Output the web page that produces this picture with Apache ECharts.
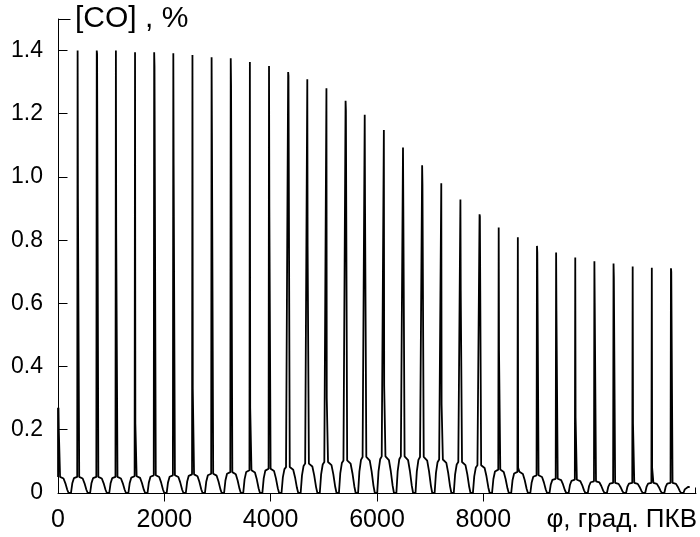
<!DOCTYPE html>
<html>
<head>
<meta charset="utf-8">
<script src="https://cdn.jsdelivr.net/npm/echarts@6/dist/echarts.min.js"></script>
<style>
  html, body { margin: 0; padding: 0; background: #fff; }
  #chart { width: 700px; height: 537px; }
</style>
</head>
<body>
<div id="chart"></div>
<script>
// one spike per 360 deg of crank angle
const cycleLength = 360
const firstSpikeAt = 9
const dataEnd = 11885

// spike tops, k = 0..32 (k = 0 is the cut start at phi = 0)
const spikePeaks = [
  0.27, 1.400, 1.400, 1.400, 1.395, 1.395, 1.392, 1.386, 1.379, 1.376,
  1.364, 1.351, 1.332, 1.309, 1.281, 1.241, 1.197, 1.149, 1.093, 1.037,
  0.980, 0.929, 0.882, 0.840, 0.809, 0.782, 0.761, 0.745, 0.733, 0.726,
  0.717, 0.713, 0.711
]

// where the falling edge of each spike slows down (thick lower part)
const spikeShoulders = [
  0.20, 0.93, 1.39, 0.82, 0.22, 1.35, 1.04, 0.33, 1.14, 1.29,
  0.27, 0.905, 1.32, 0.78, 0.30, 1.21, 0.91, 0.34, 0.91, 0.977,
  0.28, 0.64, 0.875, 0.45, 0.08, 0.761, 0.577, 0.24, 0.602, 0.682,
  0.22, 0.08, 0.70
]

// height of the low hump in each cycle, k = 0..33
const archHeights = [
  0.051, 0.051, 0.051, 0.051, 0.053, 0.056, 0.056, 0.059, 0.061, 0.066,
  0.072, 0.077, 0.082, 0.093, 0.098, 0.103, 0.114, 0.116, 0.116, 0.114,
  0.106, 0.098, 0.088, 0.074, 0.067, 0.056, 0.045, 0.042, 0.037, 0.032,
  0.032, 0.032, 0.032, 0.019
]

// shape of one hump (offset from the spike, share of hump height)
const archOffsetsBefore = [-125, -100, -70, -40, -8]
const archSharesBefore = [0, 0.6, 0.92, 1, 1]
const archOffsetsAfter = [30, 60, 95, 130, 165, 190]
const archSharesAfter = [1, 0.98, 0.9, 0.6, 0.2, 0]

const xMax = 12000
const yMax = 1.5
const xTickValues = [2000, 4000, 6000, 8000]
const yTickValues = [0.2, 0.4, 0.6, 0.8, 1.0, 1.2, 1.4]

const buildSeries = () => {
  const data = [[0, spikePeaks[0]]]
  const push = (x, y) => {
    if (x > 0 && x <= dataEnd) data.push([x, y])
  }
  archHeights.forEach((h, k) => {
    const s = firstSpikeAt + k * cycleLength
    archOffsetsBefore.forEach((off, i) => push(s + off, h * archSharesBefore[i]))
    if (k < spikePeaks.length) {
      push(s, spikePeaks[k])
      push(s + 6, spikeShoulders[k])
    }
    archOffsetsAfter.forEach((off, i) => push(s + off, h * archSharesAfter[i]))
  })
  return data
}

const font = 'Liberation Sans, Arial, sans-serif'
const chart = echarts.init(document.getElementById('chart'))

chart.setOption({
  animation: false,
  backgroundColor: '#fff',
  grid: { left: 58, right: 2, top: 19, bottom: 44 },
  xAxis: {
    type: 'value',
    min: 0,
    max: xMax,
    interval: 2000,
    splitLine: { show: false },
    axisLine: { show: true, lineStyle: { color: '#000', width: 1 } },
    axisTick: { show: false },
    axisLabel: {
      margin: 15,
      color: '#000',
      fontSize: 25,
      fontFamily: font,
      formatter: v => (v >= 10000 ? '' : String(v))
    },
    name: 'φ, град. ПКВ',
    nameLocation: 'end',
    nameGap: 1,
    nameTextStyle: {
      color: '#000',
      fontSize: 26,
      fontFamily: font,
      align: 'right',
      verticalAlign: 'top',
      padding: [14, 0, 0, 0]
    }
  },
  yAxis: {
    type: 'value',
    min: 0,
    max: yMax,
    interval: 0.2,
    splitLine: { show: false },
    axisLine: { show: true, lineStyle: { color: '#000', width: 1 } },
    axisTick: { show: false },
    axisLabel: {
      margin: 15,
      color: '#000',
      fontSize: 23,
      fontFamily: font,
      formatter: v => (v === 0 ? '0' : v > 1.45 ? '' : v.toFixed(1))
    },
    name: '[CO] , %',
    nameLocation: 'end',
    nameGap: 0,
    nameTextStyle: {
      color: '#000',
      fontSize: 30,
      fontFamily: font,
      align: 'left',
      verticalAlign: 'middle',
      padding: [0, 0, 0, 17]
    }
  },
  series: [{
    type: 'line',
    data: buildSeries(),
    showSymbol: false,
    lineStyle: { color: '#000', width: 1.8 }
  }]
})

// axis frame and ticks, placed through the chart's own scales
const toPx = p => chart.convertToPixel({ gridIndex: 0 }, p)
const crisp = v => Math.floor(v) + 0.5
const seg = (x1, y1, x2, y2) => ({
  type: 'line',
  silent: true,
  z: 100,
  shape: { x1, y1, x2, y2 },
  style: { stroke: '#000', lineWidth: 1 }
})

const origin = toPx([0, 0])
const x0 = crisp(origin[0])
const y0 = crisp(origin[1])
const yTop = toPx([0, yMax])[1]
const xEnd = toPx([xMax, 0])[0]

const frame = [
  seg(x0, y0, x0, yTop),
  seg(x0, y0, xEnd, y0),
  seg(x0, crisp(yTop), x0 + 12, crisp(yTop)),
  seg(crisp(xEnd) - 1, y0, crisp(xEnd) - 1, y0 - 6)
]
yTickValues.forEach(v => {
  const y = crisp(toPx([0, v])[1])
  frame.push(seg(x0, y, x0 + 9, y))
})
xTickValues.forEach(v => {
  const x = crisp(toPx([v, 0])[0])
  frame.push(seg(x, y0, x, y0 + 8))
})

chart.setOption({ graphic: frame })
</script>
</body>
</html>
